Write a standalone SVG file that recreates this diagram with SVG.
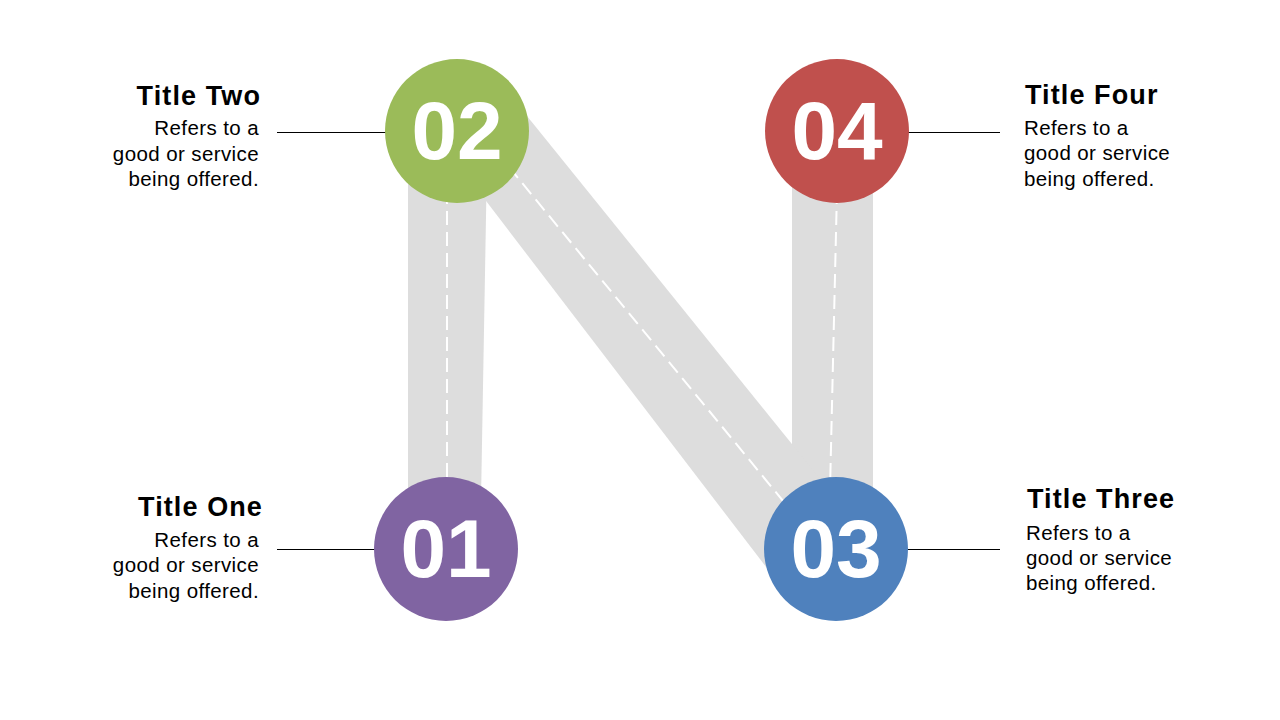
<svg xmlns="http://www.w3.org/2000/svg" width="1280" height="720" viewBox="0 0 1280 720">
<style>
.band{fill:#DDDDDD}
.dash{stroke:#FFFFFF;stroke-width:2;stroke-dasharray:14 7;fill:none}
.lead{stroke:#000000;stroke-width:1}
.num{font-family:"Liberation Sans",Arial,sans-serif;font-weight:bold;font-size:82px;fill:#FFFFFF;text-anchor:middle}
.title{font-family:"Liberation Sans",Arial,sans-serif;font-weight:bold;font-size:27px;letter-spacing:1.1px;fill:#000000}
.body{font-family:"Liberation Sans",Arial,sans-serif;font-size:20.5px;letter-spacing:0.4px;fill:#000000}
.r{text-anchor:end}
</style>
<rect width="1280" height="720" fill="#FFFFFF"/>
<g id="connectors">
<polygon class="band" points="408,160 487,160 481,500 408,500"/>
<polygon class="band" points="792,160 873,160 873,500 792,500"/>
<polygon class="band" points="447,150 506,90 821,480 776,580"/>
<line class="dash" x1="447" y1="190" x2="447" y2="490"/>
<line class="dash" x1="837" y1="190" x2="830" y2="490"/>
<line class="dash" x1="509" y1="167" x2="788" y2="507"/>
<line class="lead" x1="277" y1="132.5" x2="390" y2="132.5"/>
<line class="lead" x1="905" y1="132.5" x2="1000" y2="132.5"/>
<line class="lead" x1="277" y1="549.5" x2="380" y2="549.5"/>
<line class="lead" x1="905" y1="549.5" x2="1000" y2="549.5"/>
</g>
<g id="node-02">
<circle cx="457" cy="131" r="72" fill="#9BBB59"/>
<text class="num" x="457" y="159">02</text>
<text class="title r" x="261" y="105">Title Two</text>
<text class="body r" x="259" y="135">Refers to a</text>
<text class="body r" x="259" y="161">good or service</text>
<text class="body r" x="259" y="186">being offered.</text>
</g>
<g id="node-04">
<circle cx="837" cy="131" r="72" fill="#C0504D"/>
<text class="num" x="837" y="159">04</text>
<text class="title" x="1025" y="104">Title Four</text>
<text class="body" x="1024" y="135">Refers to a</text>
<text class="body" x="1024" y="160">good or service</text>
<text class="body" x="1024" y="186">being offered.</text>
</g>
<g id="node-01">
<circle cx="446" cy="549" r="72" fill="#8064A2"/>
<text class="num" x="446" y="577">01</text>
<text class="title r" x="263" y="516">Title One</text>
<text class="body r" x="259" y="547">Refers to a</text>
<text class="body r" x="259" y="572">good or service</text>
<text class="body r" x="259" y="598">being offered.</text>
</g>
<g id="node-03">
<circle cx="836" cy="549" r="72" fill="#4F81BD"/>
<text class="num" x="836" y="577">03</text>
<text class="title" x="1027" y="508">Title Three</text>
<text class="body" x="1026" y="540">Refers to a</text>
<text class="body" x="1026" y="565">good or service</text>
<text class="body" x="1026" y="590">being offered.</text>
</g>
</svg>
